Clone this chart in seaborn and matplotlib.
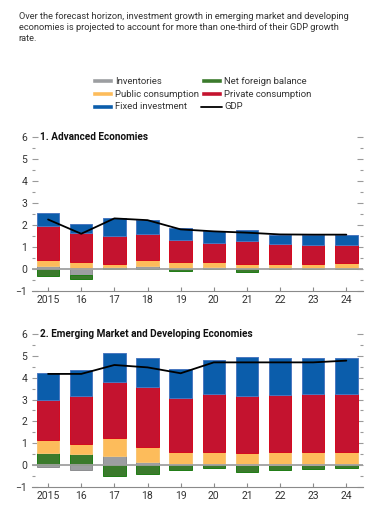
import numpy as np
import pandas as pd
import matplotlib
matplotlib.use('Agg')
import matplotlib.pyplot as plt
import seaborn as sns
from matplotlib.patches import Patch
from matplotlib.lines import Line2D
from matplotlib.ticker import MultipleLocator

sns.set_style('white')
plt.rcParams['font.family'] = ['Roboto', 'DejaVu Sans']

years = ['2015', '16', '17', '18', '19', '20', '21', '22', '23', '24']
series = ['Inventories', 'Net foreign balance', 'Public consumption',
          'Private consumption', 'Fixed investment']
colors = {'Inventories': '#9c9ea1', 'Net foreign balance': '#3b7a2c',
          'Public consumption': '#fdbc5b', 'Private consumption': '#c4132f',
          'Fixed investment': '#0b5dab'}
edges = {'Inventories': '#8c8e90', 'Net foreign balance': '#1f7d14',
         'Public consumption': '#f8c574', 'Private consumption': '#d4081e',
         'Fixed investment': '#4a78c0'}

# 1. Advanced economies (percentage point contributions)
adv_inv = [0.12, -0.27, 0.00, 0.14, 0.06, 0.08, 0.02, 0.03, 0.02, 0.02]
adv_nfb = [-0.32, -0.20, 0.08, -0.02, -0.10, -0.02, -0.12, -0.02, -0.02, -0.02]
adv_pub = [0.29, 0.31, 0.12, 0.26, 0.26, 0.22, 0.18, 0.20, 0.18, 0.24]
adv_priv = [1.54, 1.32, 1.31, 1.20, 0.98, 0.90, 1.07, 0.92, 0.91, 0.85]
adv_fix = [0.60, 0.42, 0.79, 0.63, 0.55, 0.53, 0.49, 0.41, 0.42, 0.45]
adv_gdp = [2.25, 1.60, 2.30, 2.22, 1.80, 1.71, 1.65, 1.57, 1.56, 1.56]

# 2. Emerging market and developing economies
em_inv = [-0.09, -0.21, 0.41, 0.12, 0.05, 0.05, 0.01, 0.01, 0.01, 0.02]
em_nfb = [0.54, 0.52, -0.52, -0.43, -0.21, -0.15, -0.32, -0.23, -0.20, -0.15]
em_pub = [0.61, 0.44, 0.83, 0.69, 0.55, 0.55, 0.56, 0.59, 0.59, 0.58]
em_priv = [1.83, 2.21, 2.59, 2.79, 2.48, 2.66, 2.61, 2.61, 2.68, 2.68]
em_fix = [1.23, 1.19, 1.30, 1.30, 1.31, 1.55, 1.78, 1.69, 1.65, 1.65]
em_gdp = [4.18, 4.18, 4.59, 4.48, 4.21, 4.71, 4.71, 4.71, 4.71, 4.79]


def panel(ax, vals, gdp, title):
    df = pd.DataFrame(vals, index=series, columns=years).T
    pos = np.zeros(len(years))
    neg = np.zeros(len(years))
    for s in series:
        v = df[s].to_numpy()
        bottom = np.where(v >= 0, pos, neg)
        sns.barplot(x=years, y=v, order=years, bottom=bottom, width=0.68,
                    color=colors[s], edgecolor=edges[s], linewidth=0.7,
                    saturation=1, ax=ax, zorder=2)
        pos = pos + np.clip(v, 0, None)
        neg = neg + np.clip(v, None, 0)
    ax.axhline(0, color='#a0a0a0', lw=1.3, zorder=3)
    sns.lineplot(x=np.arange(len(years)), y=gdp, color='black', lw=1.3,
                 ax=ax, zorder=4)
    ax.set_xlim(-0.5, 9.5)
    ax.set_ylim(-1, 6)
    ax.yaxis.set_major_locator(MultipleLocator(1))
    ax.yaxis.set_minor_locator(MultipleLocator(0.5))
    for sp in ['top', 'left', 'right']:
        ax.spines[sp].set_visible(False)
    ax.spines['bottom'].set_color('#8a8a8a')
    ax.spines['bottom'].set_linewidth(0.8)
    ax.tick_params(axis='y', which='both', direction='in', left=True, right=True,
                   color='#9a9a9a', labelsize=7.5, labelcolor='#333333', pad=3)
    ax.tick_params(axis='y', which='major', length=4, width=0.8)
    ax.tick_params(axis='y', which='minor', length=2, width=0.8)
    ax.tick_params(axis='x', direction='in', bottom=True, length=3, width=0.8,
                   color='#8a8a8a', labelsize=7.5, labelcolor='#333333', pad=3)
    ax.set_yticks(range(-1, 7))
    ax.set_yticklabels([str(t) if t >= 0 else '\u22121' for t in range(-1, 7)])
    ax.set_xlabel('')
    ax.set_ylabel('')
    ax.text(-0.25, 6, title, fontsize=7.2, fontweight='bold', va='center',
            ha='left', color='#111111')


fig = plt.figure(figsize=(3.77, 5.12), dpi=100)
ax1 = fig.add_axes([0.0836, 0.432, 0.879, 0.300])
ax2 = fig.add_axes([0.0836, 0.0494, 0.879, 0.2977])

panel(ax1, [adv_inv, adv_nfb, adv_pub, adv_priv, adv_fix], adv_gdp,
      '1. Advanced Economies')
panel(ax2, [em_inv, em_nfb, em_pub, em_priv, em_fix], em_gdp,
      '2. Emerging Market and Developing Economies')

fig.text(0.05, 0.976, 'Over the forecast horizon, investment growth in emerging market and developing\n'
         'economies is projected to account for more than one-third of their GDP growth\n'
         'rate.', fontsize=6.7, va='top', ha='left', color='#333333', linespacing=1.3)

handles = [Patch(facecolor=colors['Inventories']),
           Patch(facecolor=colors['Public consumption']),
           Patch(facecolor=colors['Fixed investment']),
           Patch(facecolor=colors['Net foreign balance']),
           Patch(facecolor=colors['Private consumption']),
           Line2D([], [], color='black', lw=1.3)]
labels = ['Inventories', 'Public consumption', 'Fixed investment',
          'Net foreign balance', 'Private consumption', 'GDP']
fig.legend(handles, labels, ncol=2, loc='upper left', bbox_to_anchor=(0.231, 0.859),
           frameon=False, fontsize=6.8, handlelength=2.2, handleheight=0.45,
           handletextpad=0.3, columnspacing=0.15, labelspacing=0.4,
           labelcolor='#333333', borderpad=0)

fig.savefig('out.png', dpi=100)
